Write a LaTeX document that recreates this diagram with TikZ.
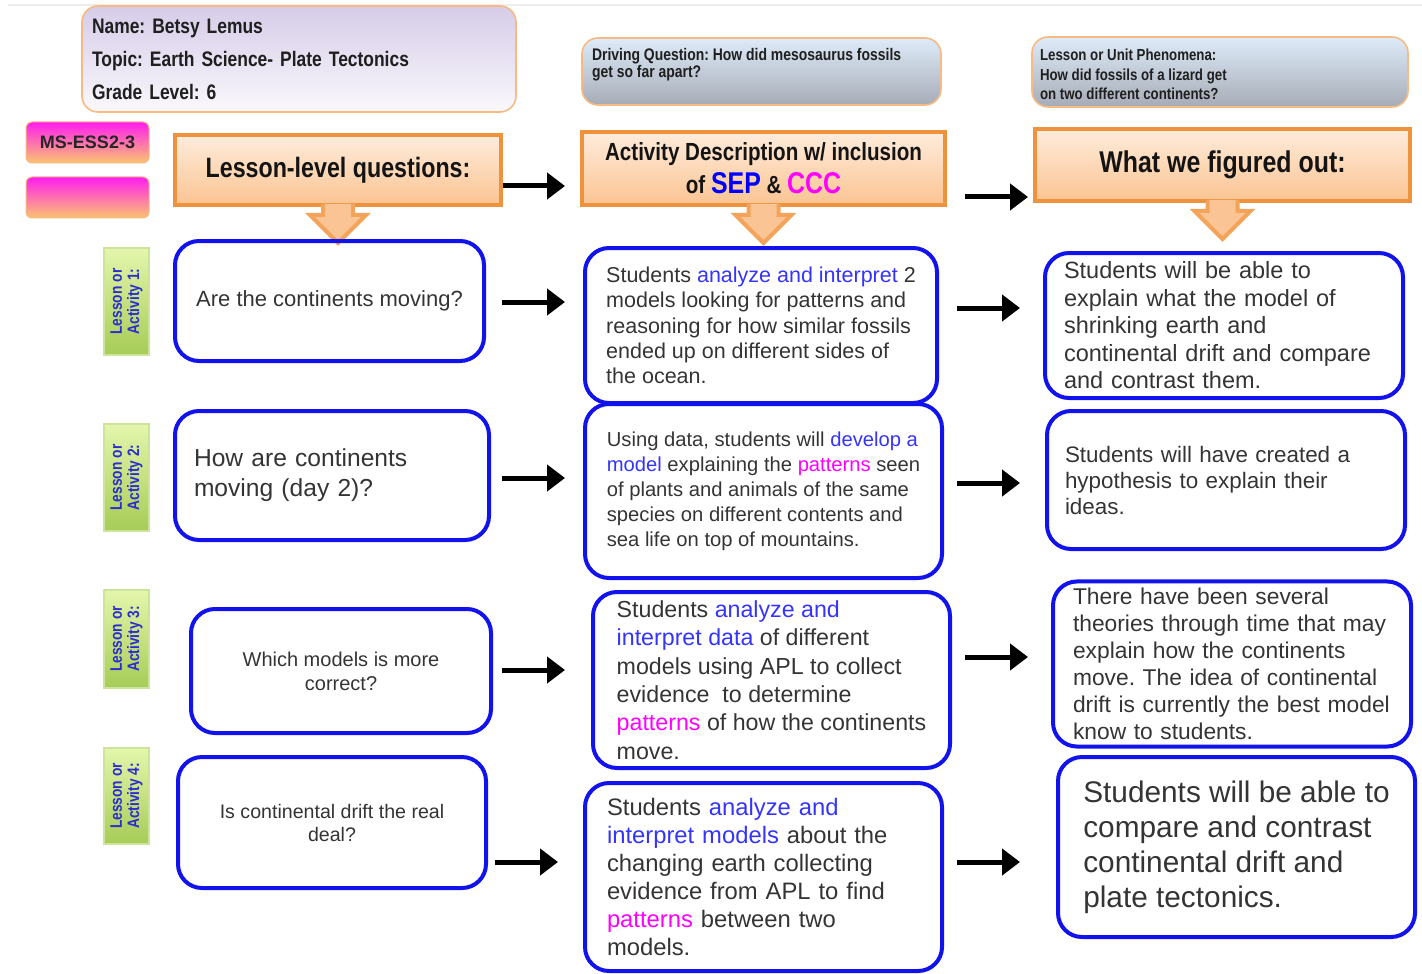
\documentclass[tikz,border=0pt]{standalone}
\usepackage{fontspec}
\setmainfont{Liberation Sans}
\newfontfamily\narrowfont[FakeStretch=0.83]{Liberation Sans}
\frenchspacing
\usetikzlibrary{arrows.meta,calc}
\definecolor{boxblue}{RGB}{18,18,236}
\definecolor{sepblue}{RGB}{52,52,250}
\definecolor{cccpink}{RGB}{255,0,255}
\definecolor{bodygray}{RGB}{52,52,52}
\definecolor{hdrline}{RGB}{238,146,62}
\definecolor{hdrtop}{RGB}{254,236,220}
\definecolor{hdrbot}{RGB}{251,196,146}
\definecolor{arrline}{RGB}{244,164,90}
\definecolor{arrfill}{RGB}{250,196,148}
\definecolor{infoline}{RGB}{246,186,130}
\definecolor{nametop}{RGB}{214,204,232}
\definecolor{namebot}{RGB}{250,248,252}
\definecolor{dqtop}{RGB}{222,235,249}
\definecolor{dqbot}{RGB}{166,172,182}
\definecolor{tagtop}{RGB}{255,30,240}
\definecolor{tagbot}{RGB}{250,196,110}
\definecolor{lbllight}{RGB}{228,246,172}
\definecolor{lbldark}{RGB}{166,204,86}
\definecolor{lblline}{RGB}{204,228,156}
\definecolor{lbltext}{RGB}{45,45,205}
\newcommand\sepword[1]{\textcolor{sepblue}{#1}}
\newcommand\cccword[1]{\textcolor{cccpink}{#1}}

\begin{document}
\begin{tikzpicture}[x=0.5pt,y=-0.5pt,
  qbox/.style={draw=boxblue,line width=2pt,rounded corners=12pt,align=center,text=bodygray},
  abox/.style={draw=boxblue,line width=2pt,rounded corners=12pt,align=left,text=bodygray},
  hdr/.style={draw=hdrline,line width=2pt,top color=hdrtop,bottom color=hdrbot,align=center,text=black!92},
  hdrarrow/.style={draw=arrline,line width=2pt,fill=arrfill,line join=miter},
  infobox/.style={draw=infoline,line width=0.8pt,rounded corners=8pt,text=black!88},
  tag/.style={draw=infoline,line width=0.5pt,rounded corners=3pt,top color=tagtop,bottom color=tagbot,minimum width=61.5pt,minimum height=20.5pt,font=\bfseries\fontsize{9}{10}\selectfont,text=black!85},
  lbl/.style={rotate=90,top color=lbllight,bottom color=lbldark,draw=lblline,line width=0.6pt,minimum height=22.5pt,inner sep=1pt,align=center,text=lbltext,font=\narrowfont\bfseries\fontsize{8.3}{8.6}\selectfont},
  flow/.style={line width=2.5pt,-{Triangle[length=9pt,width=13pt]}}]
  \useasboundingbox (0,0) rectangle (1422,973);
  \draw[black!7,line width=1pt] (8,5) -- (1422,5);

  % top info boxes
  \node[infobox,top color=nametop,bottom color=namebot,text width=207pt,inner sep=5pt,align=left,minimum height=53pt,
    font=\narrowfont\bfseries\fontsize{10.5}{16.5}\selectfont] (name) at (299,59)
    {Name: Betsy Lemus\\Topic: Earth Science- Plate Tectonics\\Grade Level: 6};
  \node[infobox,top color=dqtop,bottom color=dqbot,inner sep=5pt,font=\narrowfont\bfseries\fontsize{8.4}{8.6}\selectfont] (dq) at (761.5,71.5)
    {\parbox[c][23.5pt][t]{169.5pt}{Driving Question: How did mesosaurus fossils\\get so far apart?}};
  \node[infobox,top color=dqtop,bottom color=dqbot,inner xsep=4pt,inner ysep=6pt,font=\narrowfont\bfseries\fontsize{8}{9.75}\selectfont] (ph) at (1220,72)
    {\parbox[c][23pt][t]{180pt}{Lesson or Unit Phenomena:\\How did fossils of a lizard get\\on two different continents?}};

  \node[tag] (ms) at (87.5,142.5) {MS-ESS2-3};
  \node[tag] (ms2) at (87.5,197.5) {};

  % column headers
  \node[hdr,minimum width=163pt,minimum height=35pt,font=\narrowfont\bfseries\fontsize{14}{16}\selectfont] (lq) at (338,170) {Lesson-level questions:};
  \node[hdr,minimum width=181.5pt,minimum height=36.5pt,inner ysep=1pt,font=\narrowfont\bfseries\fontsize{12.4}{16.5}\selectfont] (ad) at (763.5,168.5)
    {Activity Description w/ inclusion\\of {\fontsize{15}{16}\selectfont\textcolor{blue}{SEP}} \& {\fontsize{15}{16}\selectfont\textcolor{cccpink}{CCC}}};
  \node[hdr,minimum width=187.5pt,minimum height=36pt,font=\narrowfont\bfseries\fontsize{15}{17}\selectfont] (wf) at (1222.5,165) {What we figured out:};
  \foreach \h in {lq,ad,wf}
    \filldraw[hdrarrow] ($(\h.south)+(-15,-3)$) -- ($(\h.south)+(-15,8)$) -- ($(\h.south)+(-28,8)$)
      -- ($(\h.south)+(0,36)$) -- ($(\h.south)+(28,8)$) -- ($(\h.south)+(15,8)$) -- ($(\h.south)+(15,-3)$);

  % lesson labels
  \node[lbl,minimum width=53.5pt] (g1) at (126.5,301.5) {Lesson or\\Activity 1:};
  \node[lbl,minimum width=53.5pt] (g2) at (126.5,477.5) {Lesson or\\Activity 2:};
  \node[lbl,minimum width=49pt] (g3) at (126.5,639) {Lesson or\\Activity 3:};
  \node[lbl,minimum width=48pt] (g4) at (126.5,796) {Lesson or\\Activity 4:};

  % questions
  \node[qbox,minimum width=154.5pt,minimum height=60pt,font=\fontsize{11}{13}\selectfont] (q1) at (329.5,301) {Are the continents moving?};
  \node[qbox,align=left,text width=138pt,inner xsep=9.5pt,minimum height=64.5pt,font=\fontsize{12.3}{15}\selectfont] (q2) at (332,475.5)
    {How are continents\\moving (day 2)?};
  \node[qbox,minimum width=150pt,minimum height=62pt,font=\fontsize{10}{12}\selectfont] (q3) at (341,671) {Which models is more\\correct?};
  \node[qbox,minimum width=154pt,minimum height=65.5pt,font=\fontsize{9.8}{11.5}\selectfont] (q4) at (332,822.5) {Is continental drift the real\\deal?};

  % activities
  \node[abox,minimum width=176pt,minimum height=77.5pt,font=\fontsize{10.75}{12.65}\selectfont] (a1) at (761,325.5)
    {Students \sepword{analyze and interpret} 2\\models looking for patterns and\\reasoning for how similar fossils\\ended up on different sides of\\the ocean.};
  \node[abox,minimum width=178.5pt,minimum height=87pt,font=\fontsize{10.1}{12.5}\selectfont] (a2) at (763.5,491)
    {Using data, students will \sepword{develop a}\\\sepword{model} explaining the \cccword{patterns} seen\\of plants and animals of the same\\species on different contents and\\sea life on top of mountains.};
  \node[abox,minimum width=178.5pt,minimum height=88pt,font=\fontsize{11.6}{14.15}\selectfont] (a3) at (771.5,680)
    {Students \sepword{analyze and}\\\sepword{interpret data} of different\\models using APL to collect\\evidence\ \ to determine\\\cccword{patterns} of how the continents\\move.};
  \node[abox,text width=156.5pt,inner xsep=11pt,minimum height=94pt,font=\fontsize{11.9}{14}\selectfont] (a4) at (763.5,877)
    {Students \sepword{analyze and}\\\sepword{interpret models} about the\\changing earth collecting\\evidence from APL to find\\\cccword{patterns} between two\\models.};

  % what we figured out
  \node[abox,text width=160pt,inner xsep=9.5pt,minimum height=72.5pt,font=\fontsize{11.75}{13.75}\selectfont] (f1) at (1224,325.5)
    {Students will be able to\\explain what the model of\\shrinking earth and\\continental drift and compare\\and contrast them.};
  \node[abox,text width=161pt,inner xsep=9pt,minimum height=69pt,font=\fontsize{11.2}{13}\selectfont] (f2) at (1226,480)
    {Students will have created a\\hypothesis to explain their\\ideas.};
  \node[abox,text width=159pt,inner xsep=10pt,minimum height=81pt,font=\fontsize{11.4}{13.5}\selectfont] (f3) at (1232,664)
    {There have been several\\theories through time that may\\explain how the continents\\move. The idea of continental\\drift is currently the best model\\know to students.};
  \node[abox,minimum width=178.5pt,minimum height=90pt,font=\fontsize{14.9}{17.5}\selectfont] (f4) at (1236.5,847)
    {Students will be able to\\compare and contrast\\continental drift and\\plate tectonics.};

  % arrows
  \foreach \a/\b/\y/\s/\t in {lq/ad/186/0pt/7.5pt, ad/wf/197/9pt/2.5pt,
      q1/a1/302/8pt/9pt, a1/f1/308/9pt/11.5pt,
      q2/a2/478/5.5pt/9pt, a2/f2/483/6.5pt/12.5pt,
      q3/a3/670/4.5pt/13pt, a3/f3/657/6.5pt/11.5pt,
      q4/a4/862/3.5pt/12.5pt, a4/f4/862/6.5pt/18pt}
    \draw[flow,shorten <=\s,shorten >=\t] (\a.east |- 0,\y) -- (\b.west |- 0,\y);
\end{tikzpicture}
\end{document}
